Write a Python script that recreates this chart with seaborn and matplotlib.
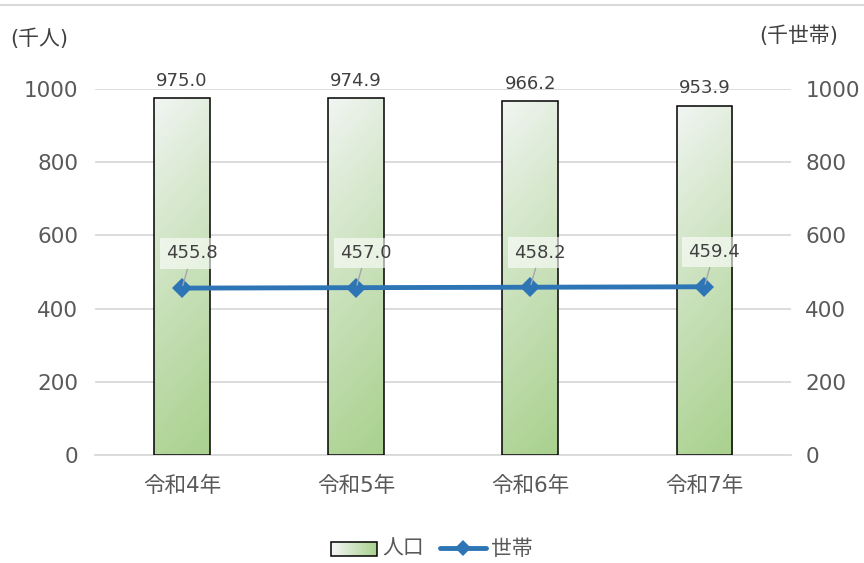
import matplotlib
matplotlib.use("Agg")
import matplotlib.pyplot as plt
import matplotlib.colors as mcolors
from matplotlib.patches import Rectangle
from matplotlib.lines import Line2D
from matplotlib.legend_handler import HandlerBase
import seaborn as sns
import numpy as np
import pandas as pd

years = ["令和4年", "令和5年", "令和6年", "令和7年"]
population = [975.0, 974.9, 966.2, 953.9]
households = [455.8, 457.0, 458.2, 459.4]
left_unit = "(千人)"
right_unit = "(千世帯)"
yticks = [0, 200, 400, 600, 800, 1000]

sns.set_theme(style="white")
plt.rcParams["font.family"] = ["DejaVu Sans", "Noto Sans CJK JP"]

TXT = "#595959"
LBL = "#404040"
GRID = "#d9d9d9"
LIGHT = "#f3f6f5"
GREEN = "#a9d18e"
BLUE = "#2e75b6"

df = pd.DataFrame({"year": years, "pop": population, "hh": households})

fig = plt.figure(figsize=(8.64, 5.63), dpi=100)
ax = fig.add_axes([0.110, 0.192, 0.806, 0.650])

sns.barplot(data=df, x="year", y="pop", ax=ax, width=0.32, color=GREEN, zorder=2)
ax.set_ylim(0, 1000)
ax.set_yticks(yticks)
ax.set_xlim(-0.5, 3.5)
ax.grid(axis="y", color=GRID, linewidth=1.3, zorder=0)
ax.set_axisbelow(True)
for s in ["top", "right", "left"]:
    ax.spines[s].set_visible(False)
ax.spines["bottom"].set_color(GRID)
ax.spines["bottom"].set_linewidth(1.3)
ax.set_xlabel("")
ax.set_ylabel("")
ax.tick_params(axis="y", length=0, pad=12, labelsize=15.5, labelcolor=TXT)
ax.tick_params(axis="x", length=0, pad=15, labelsize=15.5, labelcolor=TXT)

# gradient fill for bars
cmap = mcolors.LinearSegmentedColormap.from_list("g", [LIGHT, GREEN])
gy, gx = np.mgrid[0:1:200j, 0:1:50j]
grad = np.clip(0.85 * gy + 0.15 * gx, 0, 1) ** 0.85
for p in ax.patches:
    x0, w, h = p.get_x(), p.get_width(), p.get_height()
    p.set_facecolor("none")
    p.set_edgecolor("black")
    p.set_linewidth(1.1)
    p.set_zorder(3)
    im = ax.imshow(grad, cmap=cmap, extent=[x0, x0 + w, 0, h], origin="upper",
                   aspect="auto", zorder=2.5, interpolation="bilinear")
    im.set_clip_path(p)
    ax.annotate(f"{h:.1f}", (x0 + w / 2, h), xytext=(0, 6), textcoords="offset points",
                ha="center", va="bottom", fontsize=13, color=LBL)
ax.set_xlim(-0.5, 3.5)
ax.set_ylim(0, 1000)

ax2 = ax.twinx()
sns.lineplot(data=df, x="year", y="hh", ax=ax2, color=BLUE, linewidth=3.5,
             marker="D", markersize=10, markeredgewidth=0, sort=False)
ax2.set_ylim(0, 1000)
ax2.set_yticks(yticks)
ax2.set_xlim(-0.5, 3.5)
for s in ax2.spines.values():
    s.set_visible(False)
ax2.set_ylabel("")
ax2.tick_params(axis="y", length=0, pad=10, labelsize=15.5, labelcolor=TXT)

for i, v in enumerate(households):
    ax2.annotate(f"{v:.1f}", (i, v), xytext=(7, 25), textcoords="offset points",
                 ha="center", va="center", fontsize=13, color=LBL,
                 bbox=dict(boxstyle="square,pad=0.35", fc="white", ec="none", alpha=0.6),
                 arrowprops=dict(arrowstyle="-", color="#a6a6a6", lw=1,
                                 shrinkA=0, shrinkB=2))

fig.text(0.012, 0.932, left_unit, fontsize=15, color=LBL, ha="left", va="center")
fig.text(0.97, 0.937, right_unit, fontsize=15, color=LBL, ha="right", va="center")
fig.add_artist(Line2D([0, 1], [1 - 5 / 563, 1 - 5 / 563], transform=fig.transFigure,
                      color=GRID, linewidth=1.5))


class GradHandler(HandlerBase):
    def create_artists(self, legend, orig, xd, yd, width, height, fontsize, trans):
        arts = []
        n = 24
        for k in range(n):
            r = Rectangle((xd + width * k / n, yd), width / n + 0.3, height,
                          facecolor=cmap(k / (n - 1)), edgecolor="none", transform=trans)
            arts.append(r)
        arts.append(Rectangle((xd, yd), width, height, facecolor="none",
                              edgecolor="black", linewidth=1.1, transform=trans))
        return arts


bar_handle = Rectangle((0, 0), 1, 1)
line_handle = Line2D([], [], color=BLUE, linewidth=3.5, marker="D", markersize=8,
                     markeredgewidth=0)
fig.legend([bar_handle, line_handle], ["人口", "世帯"], loc="center",
           bbox_to_anchor=(0.5, 0.025), ncol=2, frameon=False, fontsize=15,
           labelcolor=TXT, handler_map={Rectangle: GradHandler()},
           handlelength=2.2, handleheight=0.6, handletextpad=0.25, columnspacing=0.8)

fig.savefig("out.png", dpi=100)
